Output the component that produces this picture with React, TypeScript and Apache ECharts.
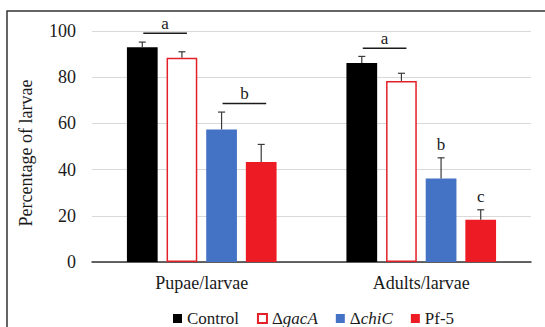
import React, { useEffect, useRef } from "react";
import * as echarts from "echarts";

const categories = ["Pupae/larvae", "Adults/larvae"];
const seriesNames = ["Control", "ΔgacA", "ΔchiC", "Pf-5"];
const controlValues = [93, 86.2];
const gacAValues = [88.4, 78.4];
const chiCValues = [57.4, 36.2];
const pf5Values = [43.3, 18.3];
const controlErr = [2.2, 2.8];
const gacAErr = [2.6, 3.3];
const chiCErr = [7.5, 8.9];
const pf5Err = [7.6, 4.3];
const yTicks = [0, 20, 40, 60, 80, 100];

// significance bars: [category, y value, from series, to series]
const sigLines = [
  [0, 99, 0, 1],
  [0, 68.6, 2, 3],
  [1, 92.5, 0, 1],
];
const sigLineLetters = ["a", "b", "a"];
// single letters above error bars: [category, series]
const sigSingles = [
  [1, 2],
  [1, 3],
];
const sigSingleLetters = ["b", "c"];

const FONT = "Liberation Serif";

export default function App() {
  const ref = useRef<HTMLDivElement>(null);
  useEffect(() => {
    if (!ref.current) return;
    const chart = echarts.init(ref.current, undefined, { renderer: "svg" });
    const allValues = [controlValues, gacAValues, chiCValues, pf5Values];
    const allErr = [controlErr, gacAErr, chiCErr, pf5Err];
    const BW = 0.14;
    const GAP = 0.29;
    const offsetFor = (band: number, si: number) => {
      const bw = band * BW;
      const g = bw * GAP;
      const total = 4 * bw + 3 * g;
      return -total / 2 + bw / 2 + si * (bw + g);
    };
    const errData: number[][] = [];
    allValues.forEach((vals, si) => {
      vals.forEach((v, ci) => errData.push([ci, v, allErr[si][ci], si]));
    });
    const singleData = sigSingles.map(([ci, si]) => [
      ci,
      allValues[si][ci] + allErr[si][ci],
      si,
    ]);
    const colors = ["#000000", "#ffffff", "#4472C4", "#ED1C24"];
    const barSeries = seriesNames.map((name, si) => ({
      name,
      type: "bar",
      data: allValues[si],
      barWidth: BW * 100 + "%",
      barGap: GAP * 100 + "%",
      itemStyle:
        si === 1
          ? { color: "#ffffff", borderColor: "#E32028", borderWidth: 1.5 }
          : { color: colors[si] },
      z: 2,
    }));
    const textStyle = {
      fontFamily: FONT,
      fontSize: 18,
      color: "#1a1a1a",
    };
    const legendText = { fontFamily: FONT, fontSize: 17, color: "#1a1a1a" };
    chart.setOption({
      animation: false,
      textStyle: { fontFamily: FONT },
      grid: { left: 92, right: 14, top: 31, bottom: 65 },
      graphic: [
        {
          type: "rect",
          silent: true,
          shape: { x: 7, y: 11, width: 700, height: 500 },
          style: { fill: "none", stroke: "#333333", lineWidth: 1.5 },
          z: -10,
        },
      ],
      legend: {
        data: seriesNames,
        left: 168,
        top: 305,
        icon: "rect",
        itemWidth: 9,
        itemHeight: 9,
        itemGap: 18,
        textStyle: {
          ...legendText,
          rich: {
            n: { ...legendText },
            i: { ...legendText, fontStyle: "italic" },
          },
        },
        formatter: (name: string) => {
          if (name.startsWith("Δ")) return "{n|Δ}{i|" + name.slice(1) + "}";
          return "{n|" + name + "}";
        },
      },
      xAxis: {
        type: "category",
        data: categories,
        axisTick: { show: false },
        axisLine: { lineStyle: { color: "#333333", width: 1.5 } },
        axisLabel: { ...textStyle, margin: 12 },
      },
      yAxis: {
        type: "value",
        min: yTicks[0],
        max: yTicks[yTicks.length - 1],
        interval: 20,
        name: "Percentage of larvae",
        nameLocation: "middle",
        nameGap: 57,
        nameTextStyle: { ...textStyle, padding: [0, 13, 0, 0] },
        axisLine: { show: false },
        axisTick: { show: false },
        axisLabel: { ...textStyle, margin: 16 },
        splitLine: { lineStyle: { color: "#d9d9d9", width: 1 } },
      },
      series: [
        ...barSeries,
        {
          name: "err",
          type: "custom",
          data: errData,
          z: 5,
          renderItem: (params: any, api: any) => {
            const ci = api.value(0);
            const v = api.value(1);
            const e = api.value(2);
            const si = api.value(3);
            const band = api.size([1, 0])[0];
            const off = offsetFor(band, si);
            const b = api.coord([ci, v]);
            const t = api.coord([ci, v + e]);
            const x = b[0] + off;
            const st = { stroke: "#3a3a3a", lineWidth: 1.2 };
            return {
              type: "group",
              children: [
                { type: "line", shape: { x1: x, y1: b[1], x2: x, y2: t[1] }, style: st },
                { type: "line", shape: { x1: x - 3.5, y1: t[1], x2: x + 3.5, y2: t[1] }, style: st },
              ],
            };
          },
        },
        {
          name: "sig",
          type: "custom",
          data: sigLines,
          z: 5,
          renderItem: (params: any, api: any) => {
            const ci = api.value(0);
            const y = api.value(1);
            const a = api.value(2);
            const b = api.value(3);
            const band = api.size([1, 0])[0];
            const p = api.coord([ci, y]);
            const x1 = p[0] + offsetFor(band, a) + 1;
            const x2 = p[0] + offsetFor(band, b) + 5;
            return {
              type: "group",
              children: [
                {
                  type: "line",
                  shape: { x1, y1: p[1], x2, y2: p[1] },
                  style: { stroke: "#1a1a1a", lineWidth: 1.5 },
                },
                {
                  type: "text",
                  x: (x1 + x2) / 2,
                  y: p[1] - 10,
                  style: {
                    text: sigLineLetters[params.dataIndex],
                    fontFamily: FONT,
                    fontSize: 17,
                    fill: "#1a1a1a",
                    align: "center",
                    verticalAlign: "middle",
                  },
                },
              ],
            };
          },
        },
        {
          name: "sig2",
          type: "custom",
          data: singleData,
          z: 5,
          renderItem: (params: any, api: any) => {
            const ci = api.value(0);
            const y = api.value(1);
            const si = api.value(2);
            const band = api.size([1, 0])[0];
            const p = api.coord([ci, y]);
            return {
              type: "text",
              x: p[0] + offsetFor(band, si),
              y: p[1] - 13,
              style: {
                text: sigSingleLetters[params.dataIndex],
                fontFamily: FONT,
                fontSize: 17,
                fill: "#1a1a1a",
                align: "center",
                verticalAlign: "middle",
              },
            };
          },
        },
      ],
    });
    return () => chart.dispose();
  }, []);
  return (
    <div
      ref={ref}
      style={{ position: "fixed", left: 0, top: 0, width: 545, height: 327, background: "#fff" }}
    />
  );
}
